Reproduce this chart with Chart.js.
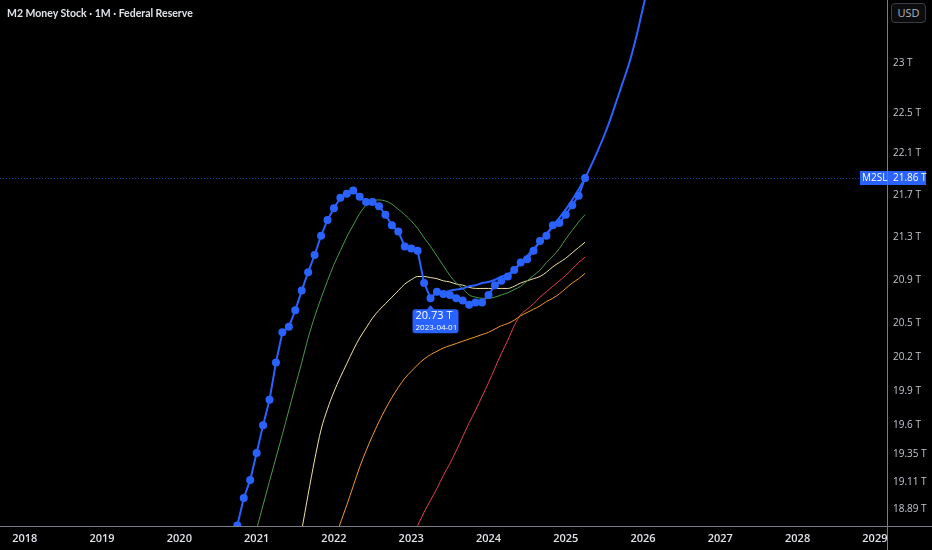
<!DOCTYPE html>
<html lang="en">
<head>
    <meta charset="UTF-8">
    <title>M2 Money Stock</title>
    <script src="https://cdn.jsdelivr.net/npm/chart.js"></script>
    <style>
        html, body { margin: 0; padding: 0; background: #000; }
        .wrap { position: relative; width: 932px; height: 550px; }
        .title {
            position: absolute; left: 7px; top: 7px;
            color: #e1e3ea; font: bold 10.5px "Lato", sans-serif;
        }
        .usd {
            position: absolute; left: 891px; top: 3px; width: 35px; height: 20px;
            border: 1px solid #3a3c44; border-radius: 4px; box-sizing: border-box;
            color: #b2b5be; font: 11px "Open Sans", sans-serif;
            text-align: center; line-height: 18px; background: #0c0c0e;
        }
    </style>
</head>
<body>
    <div class="wrap">
        <canvas id="m2Chart"></canvas>
        <div class="title">M2 Money Stock · 1M · Federal Reserve</div>
        <div class="usd">USD</div>
    </div>

    <script>
        // month index 0 = 2018-01
        const years = ['2018', '2019', '2020', '2021', '2022', '2023', '2024', '2025', '2026', '2027', '2028', '2029'];
        const yTicks = [18.89, 19.11, 19.35, 19.6, 19.9, 20.2, 20.5, 20.9, 21.3, 21.7, 22.1, 22.5, 23];

        // M2SL, trillions, starting 2020-09
        const m2Start = 32;
        const m2 = [18.55, 18.75, 18.98, 19.13, 19.36, 19.60, 19.82, 20.15, 20.42, 20.47,
            20.62, 20.80, 20.97, 21.13, 21.31, 21.46, 21.57, 21.67, 21.71, 21.74,
            21.68, 21.63, 21.63, 21.59, 21.51, 21.41, 21.35, 21.21, 21.19, 21.17,
            20.87, 20.73, 20.79, 20.77, 20.76, 20.73, 20.71, 20.67, 20.69, 20.69,
            20.76, 20.85, 20.89, 20.93, 20.99, 21.06, 21.09, 21.17, 21.26, 21.31,
            21.41, 21.43, 21.51, 21.60, 21.69, 21.86];

        // projection curve, starting 2023-05
        const projStart = 64;
        const projection = [20.77, 20.78, 20.80, 20.81, 20.82, 20.84, 20.85, 20.87, 20.88, 20.90,
            20.93, 20.95, 20.99, 21.06, 21.12, 21.19, 21.25, 21.33, 21.40, 21.48,
            21.56, 21.65, 21.75, 21.86, 21.99, 22.13, 22.28, 22.45, 22.64, 22.83,
            23.03, 23.28, 23.57, 23.85];

        const greenStart = 35;
        const greenMA = [18.52, 18.72, 18.92, 19.12, 19.32, 19.52, 19.73, 19.94, 20.15, 20.37,
            20.56, 20.73, 20.89, 21.04, 21.17, 21.30, 21.41, 21.52, 21.60, 21.64,
            21.65, 21.64, 21.61, 21.56, 21.51, 21.45, 21.38, 21.29, 21.21, 21.12,
            21.03, 20.94, 20.87, 20.82, 20.76, 20.74, 20.73, 20.73, 20.74, 20.76,
            20.78, 20.81, 20.84, 20.89, 20.94, 20.99, 21.06, 21.12, 21.19, 21.28,
            21.36, 21.44, 21.51];

        const yellowStart = 42;
        const yellowMA = [18.42, 18.71, 19.01, 19.30, 19.56, 19.74, 19.89, 20.02, 20.14, 20.26,
            20.37, 20.46, 20.55, 20.62, 20.68, 20.74, 20.80, 20.86, 20.90, 20.93,
            20.93, 20.92, 20.91, 20.89, 20.88, 20.86, 20.85, 20.83, 20.82, 20.82,
            20.82, 20.82, 20.82, 20.82, 20.84, 20.87, 20.89, 20.91, 20.93, 20.97,
            21.02, 21.06, 21.10, 21.15, 21.20, 21.25];

        const orangeStart = 48;
        const orangeMA = [18.61, 18.77, 18.92, 19.08, 19.24, 19.38, 19.51, 19.63, 19.74, 19.84,
            19.93, 20.01, 20.07, 20.13, 20.18, 20.22, 20.25, 20.28, 20.30, 20.32,
            20.34, 20.36, 20.38, 20.40, 20.42, 20.45, 20.48, 20.50, 20.53, 20.57,
            20.60, 20.63, 20.66, 20.70, 20.73, 20.77, 20.82, 20.87, 20.91, 20.96];

        const redStart = 60;
        const redMA = [18.66, 18.75, 18.86, 18.96, 19.06, 19.17, 19.27, 19.38, 19.50, 19.62,
            19.73, 19.85, 19.97, 20.10, 20.23, 20.35, 20.48, 20.58, 20.63, 20.68,
            20.74, 20.79, 20.84, 20.89, 20.94, 21.00, 21.06, 21.11];

        const markedIndex = 63;       // 2023-04
        const markedDate = '2023-04-01';

        const blue = '#2962ff';
        const axisColor = '#7b7d84';

        function series(start, values) {
            return values.map((v, i) => ({ x: start + i, y: v }));
        }

        function noPadding(s) {
            s.paddingTop = 0; s.paddingBottom = 0; s.paddingLeft = 0; s.paddingRight = 0;
        }

        // overlays: axis lines, last value marker, hovered point label
        const overlay = {
            id: 'overlay',
            afterDatasetsDraw(chart) {
                const c = chart.ctx;
                const area = chart.chartArea;
                const xs = chart.scales.x, ys = chart.scales.y;
                c.save();

                // last value dotted line
                const last = m2[m2.length - 1];
                const ly = Math.round(ys.getPixelForValue(last)) + 0.5;
                c.strokeStyle = 'rgba(41, 98, 255, 0.6)';
                c.lineWidth = 1;
                c.setLineDash([1, 2]);
                c.beginPath();
                c.moveTo(area.left, ly);
                c.lineTo(860, ly);
                c.stroke();
                c.setLineDash([]);

                // axis lines
                c.strokeStyle = axisColor;
                c.beginPath();
                c.moveTo(0, area.bottom + 0.5);
                c.lineTo(chart.width, area.bottom + 0.5);
                c.moveTo(area.right + 0.5, 0);
                c.lineTo(area.right + 0.5, chart.height);
                c.stroke();

                // last value badges
                c.fillStyle = blue;
                c.fillRect(860, ly - 7.5, 27, 14);
                c.fillRect(area.right + 1, ly - 7.5, 38, 14);
                c.fillStyle = '#ffffff';
                c.font = '10px "Open Sans", sans-serif';
                c.textBaseline = 'middle';
                c.textAlign = 'left';
                c.fillText('M2SL', 862, ly);
                c.fillText(last.toFixed(2) + ' T', area.right + 6, ly);

                // hovered point label
                const v = m2[markedIndex - m2Start];
                const px = xs.getPixelForValue(markedIndex);
                const py = ys.getPixelForValue(v);
                const bx = px - 18, by = py + 11, bw = 46, bh = 24;
                c.fillStyle = blue;
                c.beginPath();
                c.roundRect(bx, by, bw, bh, 3);
                c.fill();
                c.beginPath();
                c.moveTo(px - 4, by + 0.5);
                c.lineTo(px, by - 4);
                c.lineTo(px + 4, by + 0.5);
                c.closePath();
                c.fill();
                c.fillStyle = '#ffffff';
                c.font = '11px "Open Sans", sans-serif';
                c.fillText(v.toFixed(2) + ' T', bx + 3, by + 7);
                c.font = '8px "Open Sans", sans-serif';
                c.fillText(markedDate, bx + 3, by + 18);

                c.restore();
            }
        };

        const xMin = -24.8 / 6.44;
        const xMax = (887 - 24.8) / 6.44;

        new Chart(document.getElementById('m2Chart'), {
            type: 'line',
            data: {
                datasets: [
                    {
                        label: 'M2SL', data: series(m2Start, m2),
                        borderColor: blue, backgroundColor: blue, borderWidth: 2,
                        pointRadius: 4, pointBorderWidth: 0, pointBackgroundColor: blue, tension: 0
                    },
                    {
                        label: 'Projection', data: series(projStart, projection),
                        borderColor: blue, borderWidth: 2, pointRadius: 0, cubicInterpolationMode: 'monotone'
                    },
                    {
                        label: 'MA 1', data: series(greenStart, greenMA),
                        borderColor: '#4a9a4c', borderWidth: 1, pointRadius: 0, cubicInterpolationMode: 'monotone'
                    },
                    {
                        label: 'MA 2', data: series(yellowStart, yellowMA),
                        borderColor: '#eee3a0', borderWidth: 1, pointRadius: 0, cubicInterpolationMode: 'monotone'
                    },
                    {
                        label: 'MA 3', data: series(orangeStart, orangeMA),
                        borderColor: '#f09a30', borderWidth: 1, pointRadius: 0, cubicInterpolationMode: 'monotone'
                    },
                    {
                        label: 'MA 4', data: series(redStart, redMA),
                        borderColor: '#e0404e', borderWidth: 1, pointRadius: 0, cubicInterpolationMode: 'monotone'
                    }
                ]
            },
            options: {
                responsive: true,
                maintainAspectRatio: false,
                animation: false,
                layout: { padding: 0, autoPadding: false },
                plugins: { legend: { display: false }, tooltip: { enabled: false } },
                scales: {
                    x: {
                        type: 'linear', min: xMin, max: xMax, bounds: 'data',
                        grid: { display: false, drawTicks: false },
                        border: { display: false },
                        afterBuildTicks: s => { s.ticks = years.map((y, i) => ({ value: i * 12 })); },
                        afterFit: s => { s.height = 24; noPadding(s); },
                        ticks: {
                            autoSkip: false, maxRotation: 0, padding: 6,
                            color: '#e1e3ea', font: { family: 'Open Sans', size: 11, weight: '600' },
                            callback: v => years[Math.round(v / 12)]
                        }
                    },
                    y: {
                        type: 'logarithmic', position: 'right', min: 18.746, max: 23.649, bounds: 'data',
                        grid: { display: false, drawTicks: false },
                        border: { display: false },
                        afterBuildTicks: s => { s.ticks = yTicks.map(v => ({ value: v })); },
                        afterFit: s => { s.width = 45; noPadding(s); },
                        ticks: {
                            padding: 6, color: '#c3c6ce',
                            font: { family: 'Open Sans', size: 10 },
                            callback: v => v + ' T'
                        }
                    }
                }
            },
            plugins: [overlay]
        });
    </script>
</body>
</html>
